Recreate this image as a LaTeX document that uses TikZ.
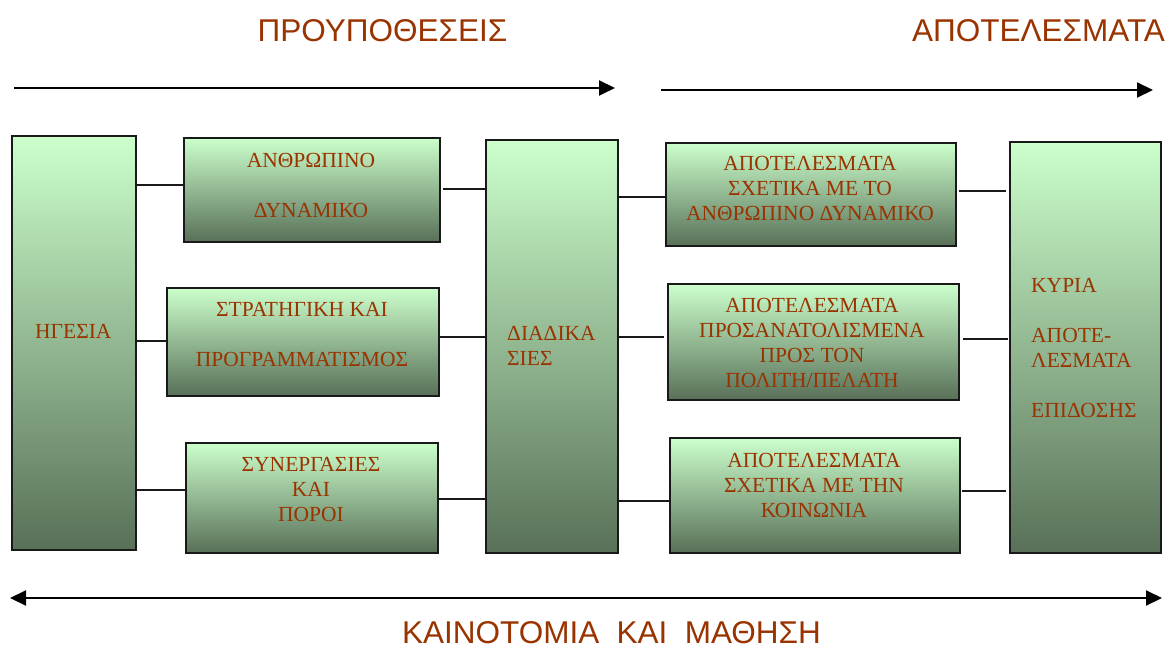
\documentclass[tikz,border=0pt]{standalone}
\usepackage{fontspec}
\setmainfont{Liberation Serif}
\newfontfamily\titlefont{Liberation Sans}
\usetikzlibrary{arrows.meta}
\definecolor{txtred}{HTML}{993300}
\definecolor{boxtop}{HTML}{CCFFCC}
\definecolor{boxbot}{HTML}{587058}
\begin{document}
\begin{tikzpicture}[x=1pt,y=-1pt,
  box/.style={draw=black!90, line width=1.6pt, rectangle, inner sep=0pt,
              top color=boxtop, bottom color=boxbot, anchor=north west},
  txt/.style={font=\fontsize{21.5}{25}\selectfont, text=txtred, inner sep=0pt, align=center},
  ltxt/.style={txt, align=left, anchor=west},
  ttl/.style={font=\titlefont\fontsize{31.5}{36}\selectfont, text=txtred, inner sep=0pt},
  link/.style={line width=1.4pt, draw=black!90},
  bigarrow/.style={line width=2pt, -{Triangle[length=16pt,width=15pt]}},
  dblarrow/.style={line width=2pt, {Triangle[length=16pt,width=15pt]}-{Triangle[length=16pt,width=15pt]}}]
\useasboundingbox (0,0) rectangle (1173,650);

% titles
\node[ttl] (t1) at (382.5,30.5) {ΠΡΟΥΠΟΘΕΣΕΙΣ};
\node[ttl] (t2) at (1038.5,30.5) {ΑΠΟΤΕΛΕΣΜΑΤΑ};
\node[ttl] (t3) at (611.5,633) {ΚΑΙΝΟΤΟΜΙΑ\hspace{0.55em}ΚΑΙ\hspace{0.55em}ΜΑΘΗΣΗ};

% arrows
\coordinate (a1s) at (14,88);  \coordinate (a1e) at (615,88);
\coordinate (a2s) at (661,90); \coordinate (a2e) at (1153,90);
\coordinate (a3s) at (10,598); \coordinate (a3e) at (1162,598);
\draw[bigarrow] (a1s) -- (a1e);
\draw[bigarrow] (a2s) -- (a2e);
\draw[dblarrow] (a3s) -- (a3e);

% boxes
\node[box, minimum width=124pt, minimum height=414pt] (hg) at (11,135) {};
\node[box, minimum width=256pt, minimum height=104pt] (ba) at (183,137) {};
\node[box, minimum width=272pt, minimum height=108pt] (bb) at (166,287) {};
\node[box, minimum width=252pt, minimum height=110pt] (bc) at (185,442) {};
\node[box, minimum width=132pt, minimum height=413pt] (pr) at (485,139) {};
\node[box, minimum width=290pt, minimum height=103pt] (r1) at (665,142) {};
\node[box, minimum width=291pt, minimum height=116pt] (r2) at (667,283) {};
\node[box, minimum width=290pt, minimum height=115pt] (r3) at (669,437) {};
\node[box, minimum width=151pt, minimum height=411pt] (kr) at (1009,141) {};

% texts
\node[ltxt] (hgt) at (35,331) {ΗΓΕΣΙΑ};
\node[txt] (bat) at (311,185) {ΑΝΘΡΩΠΙΝΟ\\[25pt]ΔΥΝΑΜΙΚΟ};
\node[txt] (bbt) at (302,335) {ΣΤΡΑΤΗΓΙΚΗ ΚΑΙ\\[25pt]ΠΡΟΓΡΑΜΜΑΤΙΣΜΟΣ};
\node[txt] (bct) at (311,489.5) {ΣΥΝΕΡΓΑΣΙΕΣ\\ΚΑΙ\\ΠΟΡΟΙ};
\node[ltxt] (prt) at (507,345.5) {ΔΙΑΔΙΚΑ\\ΣΙΕΣ};
\node[txt] (r1t) at (810,188) {ΑΠΟΤΕΛΕΣΜΑΤΑ\\ΣΧΕΤΙΚΑ ΜΕ ΤΟ\\ΑΝΘΡΩΠΙΝΟ ΔΥΝΑΜΙΚΟ};
\node[txt] (r2t) at (812,343) {ΑΠΟΤΕΛΕΣΜΑΤΑ\\ΠΡΟΣΑΝΑΤΟΛΙΣΜΕΝΑ\\ΠΡΟΣ ΤΟΝ\\ΠΟΛΙΤΗ/ΠΕΛΑΤΗ};
\node[txt] (r3t) at (814,485.5) {ΑΠΟΤΕΛΕΣΜΑΤΑ\\ΣΧΕΤΙΚΑ ΜΕ ΤΗΝ\\ΚΟΙΝΩΝΙΑ};
\node[ltxt] (krt) at (1031,348) {ΚΥΡΙΑ\\[25pt]ΑΠΟΤΕ-\\ΛΕΣΜΑΤΑ\\[25pt]ΕΠΙΔΟΣΗΣ};

% connectors
\draw[link] (hg.east |- 0,185) -- (ba.west |- 0,185);
\draw[link] (hg.east |- 0,341) -- (bb.west |- 0,341);
\draw[link] ([xshift=-2pt]hg.east |- 0,490) -- (bc.west |- 0,490);
\draw[link] ([xshift=2pt]ba.east |- 0,189) -- (pr.west |- 0,189);
\draw[link] (bb.east |- 0,337) -- (pr.west |- 0,337);
\draw[link] ([xshift=-2pt]bc.east |- 0,499) -- ([xshift=2pt]pr.west |- 0,499);
\draw[link] (pr.east |- 0,197) -- (r1.west |- 0,197);
\draw[link] (pr.east |- 0,337) -- ([xshift=-3pt]r2.west |- 0,337);
\draw[link] ([xshift=-2pt]pr.east |- 0,501) -- (r3.west |- 0,501);
\draw[link] ([xshift=2pt]r1.east |- 0,191) -- ([xshift=-3pt]kr.west |- 0,191);
\draw[link] ([xshift=3pt]r2.east |- 0,339) -- ([xshift=-1pt]kr.west |- 0,339);
\draw[link] ([xshift=1pt]r3.east |- 0,491) -- ([xshift=-3pt]kr.west |- 0,491);
\end{tikzpicture}
\end{document}
